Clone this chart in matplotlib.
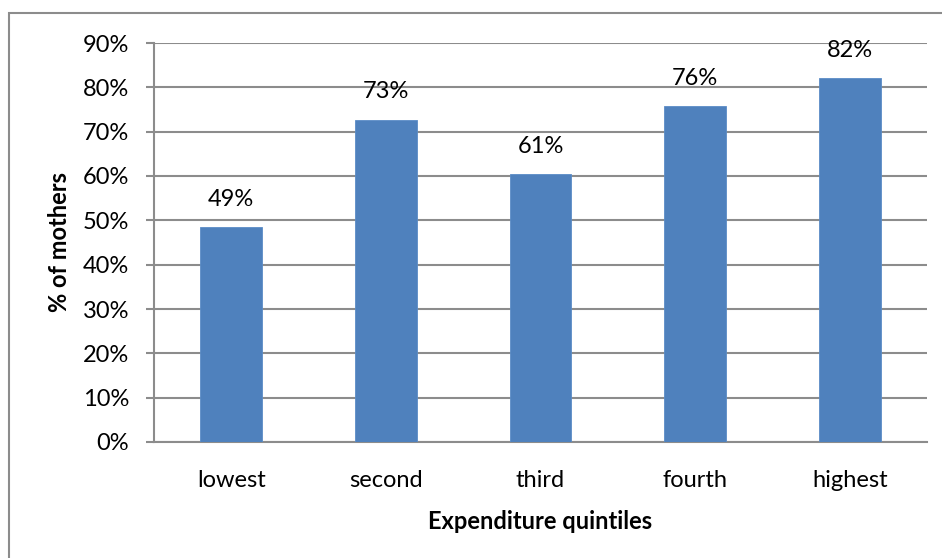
import matplotlib
matplotlib.use("Agg")
import matplotlib.pyplot as plt
from matplotlib.patches import Rectangle
from matplotlib.ticker import PercentFormatter
import numpy as np

categories = ["lowest", "second", "third", "fourth", "highest"]
values = [48.5, 72.7, 60.5, 75.8, 82.1]
labels = ["49%", "73%", "61%", "76%", "82%"]
yticks = [0, 10, 20, 30, 40, 50, 60, 70, 80, 90]

plt.rcParams['font.family'] = ['Lato', 'DejaVu Sans']
FS = 17

W, H = 942, 558
fig = plt.figure(figsize=(W / 100, H / 100), dpi=100)
ax = fig.add_axes([154 / W, 1 - 442 / H, (927 - 154) / W, (442 - 43) / H])

x = np.arange(len(categories))
ax.bar(x, values, width=0.4, color="#4F81BD", edgecolor="#5B8CC7", linewidth=0.6, zorder=3)
for xi, v, lab in zip(x, values, labels):
    ax.annotate(lab, (xi, v), xytext=(0, 20), textcoords="offset points",
                ha="center", va="center", fontsize=FS, color="black")

ax.set_xlim(-0.5, len(categories) - 0.5)
ax.set_ylim(0, 90)
ax.set_yticks(yticks)
ax.yaxis.set_major_formatter(PercentFormatter(decimals=0))
ax.set_xticks(x)
ax.set_xticklabels(categories)
ax.grid(axis="y", color="#8C8C8C", linewidth=1.5, zorder=0)
ax.set_axisbelow(True)

for s in ["top", "right"]:
    ax.spines[s].set_visible(False)
ax.spines["left"].set_color("#8C8C8C")
ax.spines["left"].set_linewidth(1.5)
ax.spines["bottom"].set_color("#8C8C8C")
ax.spines["bottom"].set_linewidth(1.5)

ax.tick_params(axis="y", length=6, width=1.5, color="#8C8C8C", labelsize=FS, pad=12)
ax.tick_params(axis="x", length=0, labelsize=FS, pad=20)

ax.set_ylabel("% of mothers", fontsize=FS, fontweight="bold", labelpad=8)
ax.set_xlabel("Expenditure quintiles", fontsize=FS, fontweight="bold", labelpad=14)

# chart border (only top and left edges visible in the crop)
fig.patches.append(Rectangle((8.5 / W, -0.1), 1.2, 1 - 13.5 / H + 0.1,
                             transform=fig.transFigure, fill=False,
                             edgecolor="#8C8C8C", linewidth=1.5))

fig.savefig("out.png", dpi=100)
